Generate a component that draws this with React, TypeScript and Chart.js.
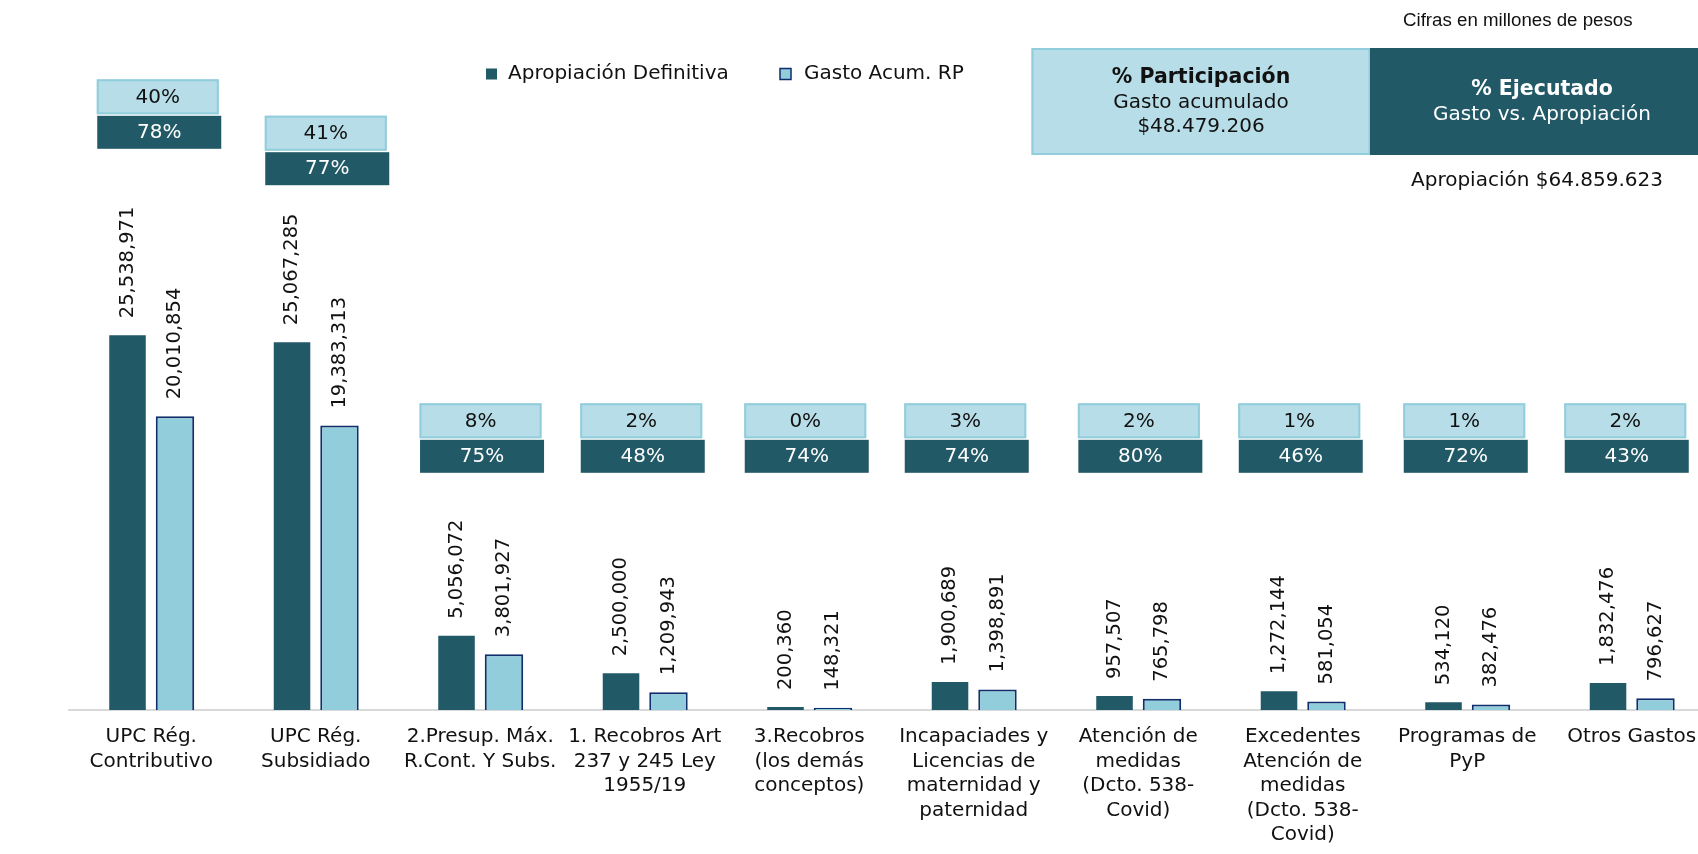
import React, { useEffect, useRef } from 'react';
import { Chart, registerables } from 'chart.js';

Chart.register(...registerables);

// ---------- data ----------
const categories: string[][] = [
  ['UPC Rég.', 'Contributivo'],
  ['UPC Rég.', 'Subsidiado'],
  ['2.Presup. Máx.', 'R.Cont. Y Subs.'],
  ['1. Recobros Art', '237 y 245 Ley', '1955/19'],
  ['3.Recobros', '(los demás', 'conceptos)'],
  ['Incapaciades y', 'Licencias de', 'maternidad y', 'paternidad'],
  ['Atención de', 'medidas', '(Dcto. 538-', 'Covid)'],
  ['Excedentes', 'Atención de', 'medidas', '(Dcto. 538-', 'Covid)'],
  ['Programas de', 'PyP'],
  ['Otros Gastos'],
];
const seriesNames = ['Apropiación Definitiva', 'Gasto Acum. RP'];
const apropiacion = [25538971, 25067285, 5056072, 2500000, 200360, 1900689, 957507, 1272144, 534120, 1832476];
const gastoAcum = [20010854, 19383313, 3801927, 1209943, 148321, 1398891, 765798, 581054, 382476, 796627];
const participacion = [40, 41, 8, 2, 0, 3, 2, 1, 1, 2];
const ejecutado = [78, 77, 75, 48, 74, 74, 80, 46, 72, 43];
const headerParticipacion = ['% Participación', 'Gasto acumulado', '$48.479.206'];
const headerEjecutado = ['% Ejecutado', 'Gasto vs. Apropiación'];
const apropiacionTotal = 'Apropiación $64.859.623';
const unitsNote = 'Cifras en millones de pesos';

// ---------- styles / layout ----------
const DARK = '#215967';
const LIGHT = '#92CDDC';
const PALE = '#B7DEE8';
const NAVY = '#0F2E6B';
const TEXT = '#111111';
const FONT = '"DejaVu Sans", Verdana, sans-serif';
const CANVAS_W = 1730;
const CANVAS_H = 854;

// percent-box placement (annotation layout)
const boxDx = [-54.5, -51, -60.7, -64.5, -65, -69.5, -60.4, -64.5, -64, -67.5];
const boxTop = [79.3, 115.7, 403.3, 403.3, 403.3, 403.3, 403.3, 403.3, 403.3, 403.3];

const annotationsPlugin = {
  id: 'annotations',
  afterDatasetsDraw(chart: any) {
    const ctx = chart.ctx as CanvasRenderingContext2D;
    // value labels, rotated
    ctx.save();
    ctx.font = `19.5px ${FONT}`;
    ctx.fillStyle = TEXT;
    chart.data.datasets.forEach((ds: any, di: number) => {
      const meta = chart.getDatasetMeta(di);
      meta.data.forEach((el: any, i: number) => {
        const v = ds.data[i] as number;
        ctx.save();
        ctx.translate(el.x, el.y - 17);
        ctx.rotate(-Math.PI / 2);
        ctx.textAlign = 'left';
        ctx.textBaseline = 'middle';
        ctx.fillText(v.toLocaleString('en-US'), 0, 0);
        ctx.restore();
      });
    });
    ctx.restore();
  },
  afterDraw(chart: any) {
    const ctx = chart.ctx as CanvasRenderingContext2D;
    const xs = chart.scales.x;
    ctx.save();

    // percent boxes
    categories.forEach((_, i) => {
      const cx = xs.getPixelForValue(i);
      const left = cx + boxDx[i];
      const top = boxTop[i];
      // light box (participación)
      ctx.fillStyle = PALE;
      ctx.fillRect(left, top, 122, 35);
      ctx.strokeStyle = LIGHT;
      ctx.lineWidth = 2;
      ctx.strokeRect(left + 1, top + 1, 120, 33);
      ctx.fillStyle = TEXT;
      ctx.font = `20px ${FONT}`;
      ctx.textAlign = 'center';
      ctx.textBaseline = 'middle';
      ctx.fillText(`${participacion[i]}%`, left + 61, top + 18);
      // dark box (ejecutado)
      const dTop = top + 36.5;
      ctx.fillStyle = DARK;
      ctx.fillRect(left + 0.5, dTop, 124, 33);
      ctx.fillStyle = '#ffffff';
      ctx.fillText(`${ejecutado[i]}%`, left + 62.5, dTop + 17);
    });

    // legend
    const ds = chart.data.datasets;
    ctx.font = `20px ${FONT}`;
    ctx.textAlign = 'left';
    ctx.textBaseline = 'middle';
    ctx.fillStyle = ds[0].backgroundColor;
    ctx.fillRect(486, 68.5, 11, 11);
    ctx.fillStyle = TEXT;
    ctx.fillText(ds[0].label, 508, 74);
    ctx.fillStyle = ds[1].backgroundColor;
    ctx.fillRect(780, 68.5, 11, 11);
    ctx.strokeStyle = ds[1].borderColor;
    ctx.lineWidth = 1.5;
    ctx.strokeRect(780, 68.5, 11, 11);
    ctx.fillStyle = TEXT;
    ctx.fillText(ds[1].label, 804, 74);

    // units note
    ctx.font = `18.7px "Liberation Sans", Arial, sans-serif`;
    ctx.fillStyle = TEXT;
    ctx.textAlign = 'left';
    ctx.fillText(unitsNote, 1403, 21);

    // header boxes
    ctx.fillStyle = PALE;
    ctx.fillRect(1031.5, 48, 338.5, 107);
    ctx.strokeStyle = LIGHT;
    ctx.lineWidth = 2;
    ctx.strokeRect(1032.5, 49, 337, 105);
    ctx.fillStyle = DARK;
    ctx.fillRect(1370, 48, 344, 107);

    ctx.textAlign = 'center';
    ctx.fillStyle = TEXT;
    ctx.font = `bold 20.5px ${FONT}`;
    ctx.fillText(headerParticipacion[0], 1201, 78);
    ctx.font = `20px ${FONT}`;
    ctx.fillText(headerParticipacion[1], 1201, 103);
    ctx.fillText(headerParticipacion[2], 1201, 127);

    ctx.fillStyle = '#ffffff';
    ctx.font = `bold 20.5px ${FONT}`;
    ctx.fillText(headerEjecutado[0], 1542, 90);
    ctx.font = `20px ${FONT}`;
    ctx.fillText(headerEjecutado[1], 1542, 115);

    ctx.fillStyle = TEXT;
    ctx.fillText(apropiacionTotal, 1537, 181);

    ctx.restore();
  },
};

export default function App() {
  const ref = useRef<HTMLCanvasElement | null>(null);

  useEffect(() => {
    if (!ref.current) return;
    const chart = new Chart(ref.current, {
      type: 'bar',
      data: {
        labels: categories,
        datasets: [
          {
            label: seriesNames[0],
            data: apropiacion,
            backgroundColor: DARK,
            borderWidth: 0,
            categoryPercentage: 0.577,
            barPercentage: 0.77,
          },
          {
            label: seriesNames[1],
            data: gastoAcum,
            backgroundColor: LIGHT,
            borderColor: NAVY,
            borderWidth: 2,
            borderSkipped: 'bottom',
            categoryPercentage: 0.577,
            barPercentage: 0.81,
          },
        ],
      },
      options: {
        responsive: false,
        animation: false,
        devicePixelRatio: 1,
        layout: { padding: { left: 69, right: CANVAS_W - 1714, top: 79, bottom: 0 } },
        plugins: {
          legend: { display: false },
          tooltip: { enabled: false },
        },
        scales: {
          x: {
            grid: { display: false, drawTicks: false },
            border: { display: true, color: '#D9D9D9', width: 2 },
            ticks: {
              color: TEXT,
              font: { family: FONT, size: 20, lineHeight: '24.5px' },
              padding: 15,
              maxRotation: 0,
              minRotation: 0,
              autoSkip: false,
            },
            afterFit: (scale: any) => {
              scale.height = 144;
            },
          },
          y: {
            display: false,
            min: 0,
            max: 43000000,
          },
        },
      },
      plugins: [annotationsPlugin],
    });
    return () => chart.destroy();
  }, []);

  return (
    <div
      style={{
        position: 'fixed',
        left: 0,
        top: 0,
        width: 1698,
        height: 854,
        overflow: 'hidden',
        background: '#ffffff',
      }}
    >
      <canvas
        ref={ref}
        width={CANVAS_W}
        height={CANVAS_H}
        style={{ display: 'block', width: CANVAS_W, height: CANVAS_H }}
      />
    </div>
  );
}
